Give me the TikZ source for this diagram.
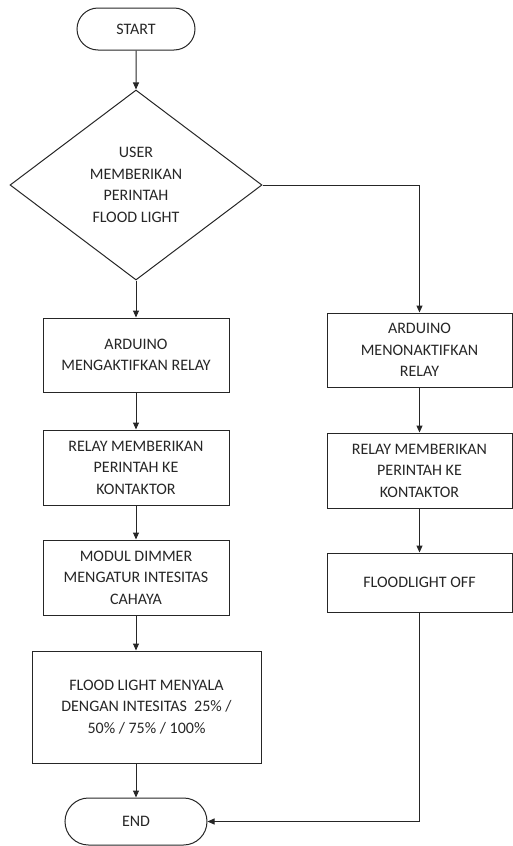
\documentclass[tikz,border=0pt]{standalone}
\usepackage{fontspec}
\setmainfont{Carlito}
\usetikzlibrary{shapes.geometric,shapes.misc,arrows.meta}

\begin{document}
\begin{tikzpicture}[x=1pt,y=-1pt,
    every node/.style={font=\fontsize{16}{21.5}\selectfont,text=black!85,align=center},
    term/.style={draw=black!85,line width=1pt,rounded rectangle,inner sep=0pt},
    decision/.style={draw=black!85,line width=1pt,diamond,inner sep=0pt},
    procbox/.style={draw=black!85,line width=1pt,rectangle,inner sep=0pt,minimum width=186pt},
    flow/.style={draw=black!85,line width=1pt,-{Triangle[length=7pt,width=6pt]}}]
    \useasboundingbox (0,0) rectangle (512,846);

    \node[term,minimum width=118pt,minimum height=42pt] (start) at (136,29) {START};
    \node[decision,minimum width=252pt,minimum height=190pt] (dec) at (136,185)
        {USER\\MEMBERIKAN\\PERINTAH\\FLOOD LIGHT};

    \node[procbox,minimum height=74pt] (on1) at (136,355) {ARDUINO\\MENGAKTIFKAN RELAY};
    \node[procbox,minimum height=75pt] (on2) at (136,467.5) {RELAY MEMBERIKAN\\PERINTAH KE\\KONTAKTOR};
    \node[procbox,minimum height=75pt] (on3) at (136,577.5) {MODUL DIMMER\\MENGATUR INTESITAS\\CAHAYA};
    \node[procbox,minimum width=229pt,minimum height=112pt] (on4) at (146.5,707)
        {FLOOD LIGHT MENYALA\\DENGAN INTESITAS\ \ 25\% /\\50\% / 75\% / 100\%};
    \node[term,minimum width=142pt,minimum height=47pt] (end) at (136,821.5) {END};

    \node[procbox,minimum width=185pt,minimum height=74pt] (off1) at (419.5,350) {ARDUINO\\MENONAKTIFKAN\\RELAY};
    \node[procbox,minimum width=185pt,minimum height=75pt] (off2) at (419.5,470.5) {RELAY MEMBERIKAN\\PERINTAH KE\\KONTAKTOR};
    \node[procbox,minimum width=185pt,minimum height=59pt] (off3) at (419.5,582.5) {FLOODLIGHT OFF};

    \draw[flow] (start) -- (dec);
    \draw[flow] (dec) -- (on1);
    \draw[flow] (on1) -- (on2);
    \draw[flow] (on2) -- (on3);
    \draw[flow] (on3.south) -- (on3.south |- on4.north);
    \draw[flow] (end.north |- on4.south) -- (end.north);

    \draw[flow] (dec.east) -| (off1.north);
    \draw[flow] (off1) -- (off2);
    \draw[flow] (off2) -- (off3);
    \draw[flow] (off3.south) |- (end.east);

\end{tikzpicture}
\end{document}
